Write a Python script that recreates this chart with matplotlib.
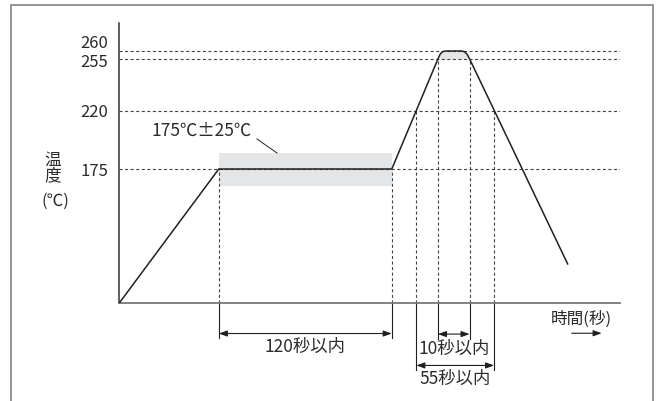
import numpy as np
import matplotlib.pyplot as plt
import matplotlib.transforms as mtransforms
from matplotlib.patches import Rectangle

plt.rcParams['font.family'] = ['Noto Sans CJK JP', 'DejaVu Sans']

# reflow profile (time in s, temperature in degC)
profile_t = [0, 69, 189, 221, 222.6, 224.3, 226.5, 237.6, 239.7, 241.4, 243, 311]
profile_T = [0, 175, 175, 255, 258.1, 259.6, 260, 260, 259.4, 257.8, 255, 51]

levels = [175, 220, 255, 260]
level_labels = ["175", "220", "255", "260"]

# guide lines: time where the curve meets a level
guide_t = [69, 189, 206, 221, 243, 260]
guide_T = [175, 175, 220, 255, 255, 220]

band_t = (69, 189)
band_T = (153, 187)

dims = [
    (69, 189, "120秒以内"),
    (221, 243, "10秒以内"),
    (206, 260, "55秒以内"),
]

# the drawing's temperature axis is not linear: piecewise scale
anchor_T = [0, 175, 220, 255, 260, 280]
anchor_H = [0, 134, 192.3, 244, 252, 280]


def fwd(v):
    return np.interp(v, anchor_T, anchor_H)


def inv(v):
    return np.interp(v, anchor_H, anchor_T)


W, H = 659, 401
fig = plt.figure(figsize=(W / 100, H / 100), dpi=100)
ax = fig.add_axes([119.3 / W, 1 - 303 / H, (620 - 119.3) / W, (303 - 23) / H])
ax.set_yscale('function', functions=(fwd, inv))
ax.set_xlim(0, 347.3)
ax.set_ylim(0, 280)

ink = "#231f20"
txt = "#2b2b2b"
dash_col = "#444444"
dash = (0, (2.8, 2.2))

# tolerance band and peak area
ax.add_patch(Rectangle((band_t[0], band_T[0]), band_t[1] - band_t[0],
                       band_T[1] - band_T[0], color="#e4e5e6", lw=0, zorder=1))
pt = np.array(profile_t)
pT = np.array(profile_T)
top = (pt >= 221) & (pt <= 243)
ax.fill_between(pt[top], 255, pT[top], color="#e4e5e6", lw=0, zorder=1)

for lv in levels:
    ax.axhline(lv, color=dash_col, lw=0.8, linestyle=dash, zorder=2)
ax.vlines(guide_t, 0, guide_T, color=dash_col, lw=0.8, linestyles=[dash], zorder=2)

ax.plot(profile_t, profile_T, color=ink, lw=1.1, zorder=3, solid_joinstyle='round')

# extension lines under the axis
xtr = ax.get_xaxis_transform()
ext = {69: -0.125, 189: -0.125, 221: -0.13, 243: -0.13, 206: -0.24, 260: -0.24}
for t, yb in ext.items():
    ax.plot([t, t], [0, yb], transform=xtr, color=ink, lw=0.8, clip_on=False)

arrow_y = [-0.109, -0.111, -0.223]
text_y = [-0.156, -0.164, -0.271]
for (t0, t1, lab), ay, ty in zip(dims, arrow_y, text_y):
    ax.annotate("", xy=(t0, ay), xytext=(t1, ay), xycoords=xtr, textcoords=xtr,
                arrowprops=dict(arrowstyle="<|-|>,head_length=0.5,head_width=0.18",
                                color=ink, lw=0.8, shrinkA=0, shrinkB=0))
    ax.text((t0 + t1) / 2, ty, lab, transform=xtr, ha="center", va="center",
            fontsize=12.5, color=txt)

# axis label for time
ax.text(320.7, -0.057, "時間(秒)", transform=xtr, ha="center", va="center",
        fontsize=12, color=txt)
ax.annotate("", xy=(334.6, -0.108), xytext=(313.8, -0.108), xycoords=xtr,
            textcoords=xtr,
            arrowprops=dict(arrowstyle="-|>,head_length=0.5,head_width=0.18",
                            color=ink, lw=0.8, shrinkA=0, shrinkB=0))

# band label with leader
fig.text(202 / W, 1 - 131 / H, "175℃±25℃", ha="center", va="center",
         fontsize=12.5, color=txt)
fig.add_artist(plt.Line2D([257 / W, 277 / W], [1 - 139 / H, 1 - 153 / H],
                          color=ink, lw=0.7))

# y label
fig.text(53 / W, 1 - 168 / H, "温\n度", ha="center", va="center", fontsize=12,
         linespacing=0.95, color=txt)
fig.text(55 / W, 1 - 201.5 / H, "(℃)", ha="center", va="center", fontsize=12,
         color=txt)

ax.set_yticks(levels, level_labels)
ax.set_xticks([])
ax.tick_params(axis="y", length=0, pad=8, labelsize=12, labelcolor=txt)
shift = {"260": -6.5, "255": 1.0}
for lab in ax.get_yticklabels():
    dy = shift.get(lab.get_text(), 0)
    if dy:
        lab.set_transform(lab.get_transform()
                          + mtransforms.ScaledTranslation(0, -dy / 72, fig.dpi_scale_trans))

for s in ("top", "right"):
    ax.spines[s].set_visible(False)
ax.spines["left"].set_color("#333333")
ax.spines["left"].set_linewidth(1.1)
ax.spines["bottom"].set_color("#777777")
ax.spines["bottom"].set_linewidth(1.3)
ax.patch.set_visible(False)

# outer frame (bottom edge runs off the picture)
fig.add_artist(Rectangle((11 / W, -0.1), (653 - 11) / W, 1.1 - 5 / H,
                         transform=fig.transFigure, fill=False,
                         edgecolor="#8a8a8a", lw=1.3))

fig.savefig("out.png", dpi=100)
